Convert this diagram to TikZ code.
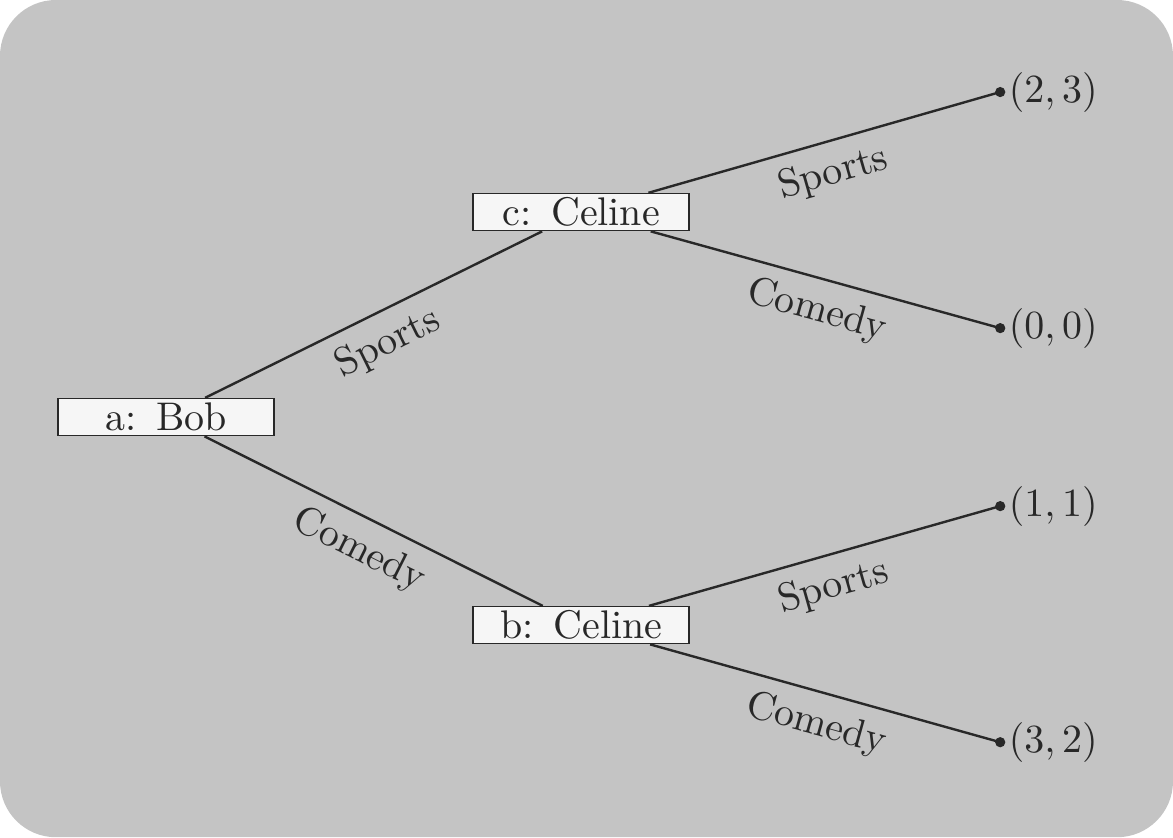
\documentclass[tikz,border=0pt]{standalone}
\usetikzlibrary{positioning}
\definecolor{bggray}{RGB}{196,196,196}
\definecolor{boxfill}{RGB}{246,246,246}
\definecolor{linegray}{RGB}{40,40,40}
\tikzset{
  player/.style={draw=linegray,fill=boxfill,minimum width=1.9cm,minimum height=0.325cm,inner sep=0pt},
  leaf/.style={circle,fill=linegray,inner sep=0pt,minimum size=0.09cm},
  move/.style={draw=linegray,semithick},
  act/.style={sloped,below,text=linegray}
}
\begin{document}
\begin{tikzpicture}
% background
\fill[bggray,rounded corners=14] (0,0) rectangle (10.32,7.366);

% players
\node[player] (a) at (1.461,3.696) {\textcolor{linegray}{a:\enspace Bob}};
\node[player] (c) at (5.113,5.500) {\textcolor{linegray}{c:\enspace Celine}};
\node[player] (b) at (5.113,1.866) {\textcolor{linegray}{b:\enspace Celine}};

% outcomes
\node[leaf,label={[text=linegray,inner sep=0.5pt]right:$(2,3)$}] (cs) at (8.8,6.556) {};
\node[leaf,label={[text=linegray,inner sep=0.5pt]right:$(0,0)$}] (cc) at (8.8,4.479) {};
\node[leaf,label={[text=linegray,inner sep=0.5pt]right:$(1,1)$}] (bs) at (8.8,2.913) {};
\node[leaf,label={[text=linegray,inner sep=0.5pt]right:$(3,2)$}] (bc) at (8.8,0.836) {};

% moves
\draw[move] (a) -- node[act] {Sports} (c);
\draw[move] (a) -- node[act] {Comedy} (b);
\draw[move] (c) -- node[act,pos=0.5] {Sports} (cs.center);
\draw[move] (c) -- node[act,pos=0.5] {Comedy} (cc.center);
\draw[move] (b) -- node[act,pos=0.5] {Sports} (bs.center);
\draw[move] (b) -- node[act,pos=0.5] {Comedy} (bc.center);
\end{tikzpicture}
\end{document}
